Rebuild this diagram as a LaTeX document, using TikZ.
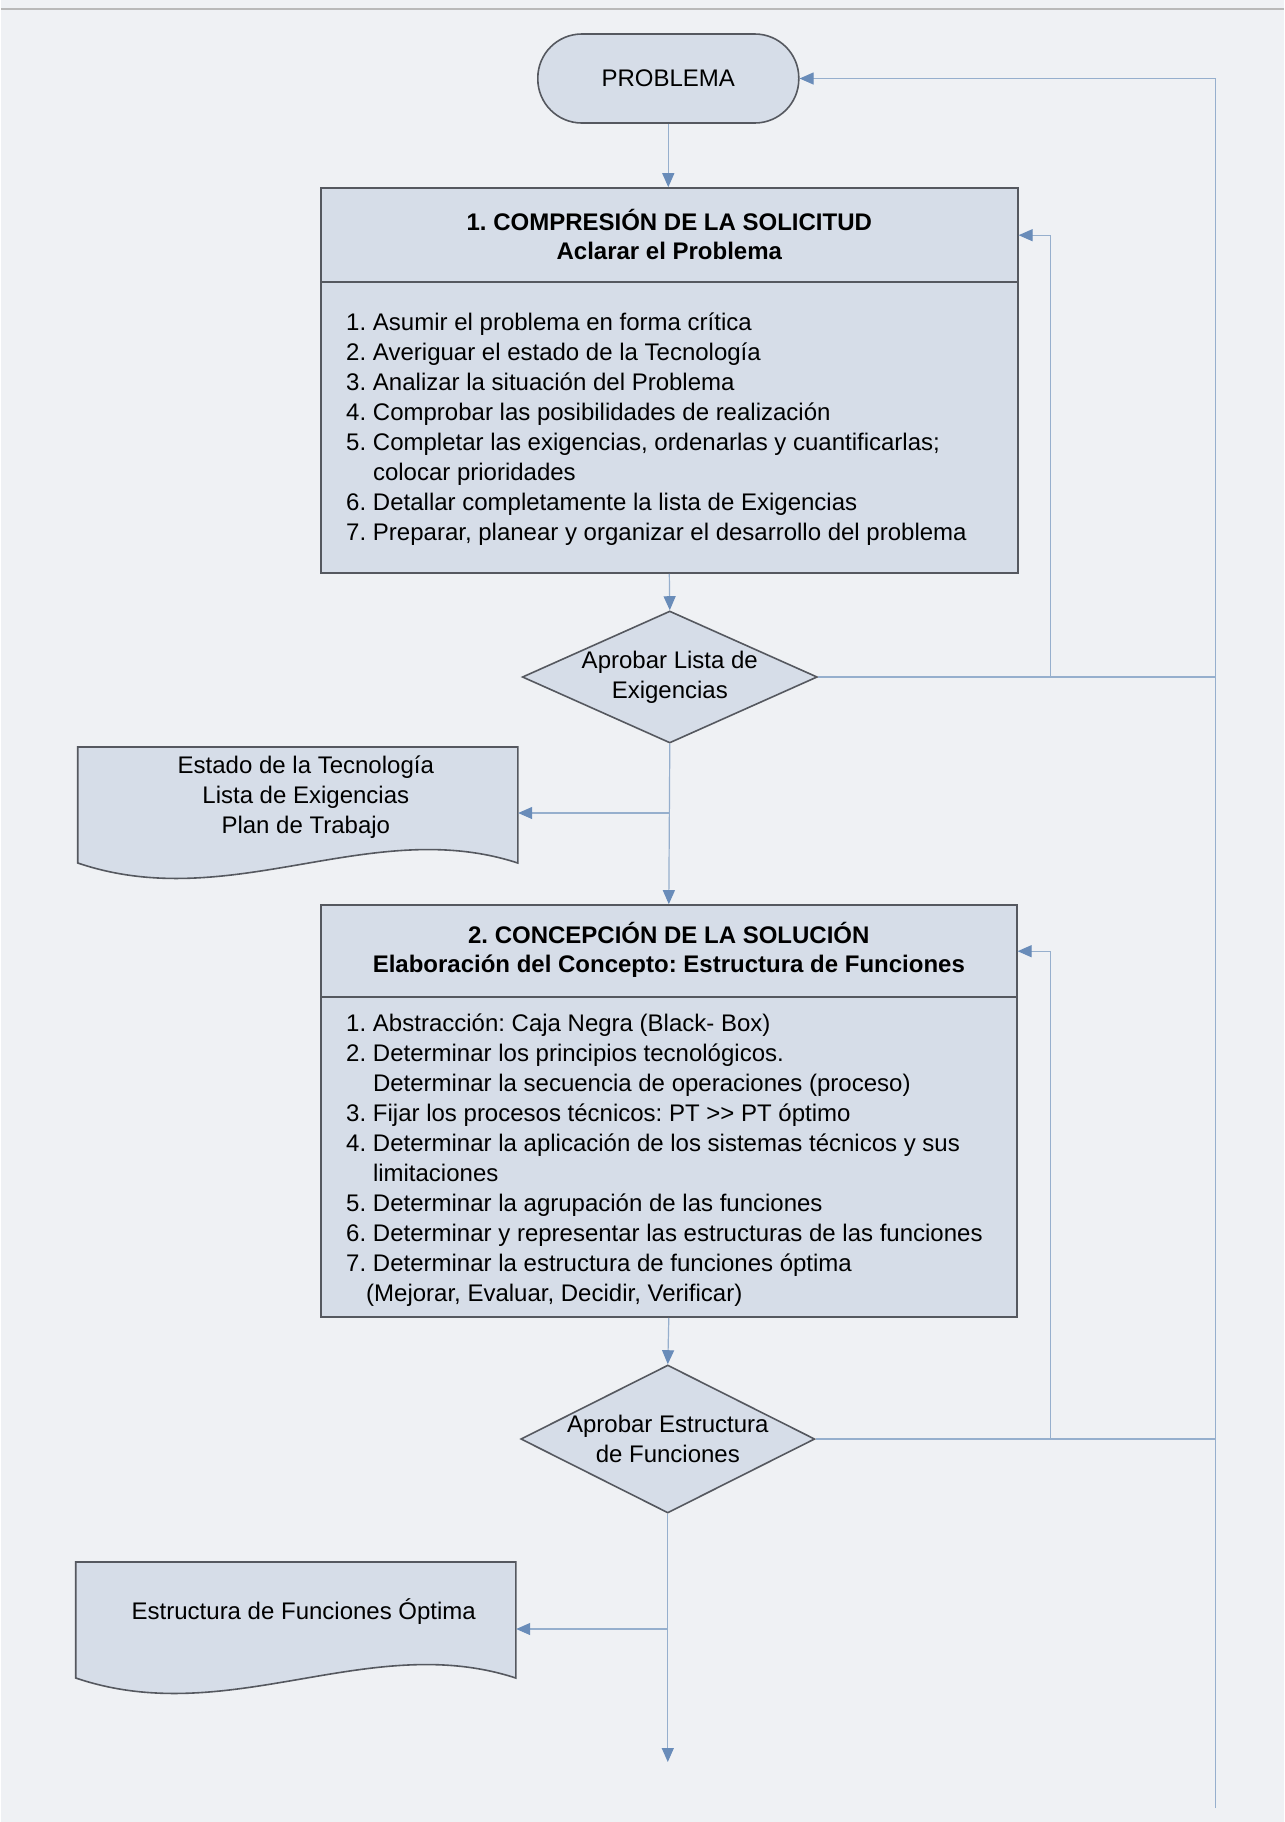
\documentclass[tikz,border=0pt]{standalone}
\usepackage{fontspec}
\setmainfont{Liberation Sans}
\usetikzlibrary{shapes.geometric,arrows.meta,calc,fit}
\frenchspacing

\definecolor{lnblue}{RGB}{150,175,205}
\definecolor{arblue}{RGB}{105,140,185}
\definecolor{shfill}{RGB}{214,221,232}
\definecolor{shdraw}{RGB}{85,88,95}
\definecolor{bgpage}{RGB}{239,241,244}

\newcommand{\itemno}[1]{\makebox[13.4pt][l]{#1}}
\newcommand{\itemgap}{\hspace*{13.4pt}}

\begin{document}
\begin{tikzpicture}[x=0.5pt,y=-0.5pt,
  font=\fontsize{12}{15}\selectfont,
  box/.style={draw=shdraw,fill=shfill,line width=0.8pt,inner sep=0pt},
  term/.style={draw=shdraw,fill=shfill,line width=0.8pt,rounded corners=22pt,minimum width=130.5pt,minimum height=44.5pt},
  decision/.style={diamond,draw=shdraw,fill=shfill,line width=0.8pt,inner sep=0pt},
  docum/.style={draw=shdraw,fill=shfill,line width=0.8pt},
  link/.style={draw=lnblue,line width=0.6pt},
  flow/.style={link,-{Triangle[length=7pt,width=6pt,color=arblue]}},
  txt/.style={align=center,inner sep=0pt},
  head/.style={txt,font=\fontsize{12}{14.5}\selectfont\bfseries},
  list/.style={align=left,anchor=north west,inner sep=0pt}
]
%Shape: Page
\fill[bgpage] (0,0) rectangle (1283,1822);
\draw[gray!55,line width=0.8pt] (0,9) -- (1283,9);

%Shape: Terminator
\node[term] (prob) at (667.5,78.5) {PROBLEMA};

%Shape: Box 1
\node[box,fit={(320,188) (1017,573)}] (sol1) {};
\draw[shdraw,line width=0.8pt] (320,282) -- (1017,282);
% Text Node
\node[head] (sol1h) at (668.5,234) {1. COMPRESIÓN DE LA SOLICITUD\\Aclarar el Problema};
% Text Node
\node[list] (sol1l) at (345,312) {\itemno{1.}Asumir el problema en forma crítica\\
\itemno{2.}Averiguar el estado de la Tecnología\\
\itemno{3.}Analizar la situación del Problema\\
\itemno{4.}Comprobar las posibilidades de realización\\
\itemno{5.}Completar las exigencias, ordenarlas y cuantificarlas;\\
\itemgap colocar prioridades\\
\itemno{6.}Detallar completamente la lista de Exigencias\\
\itemno{7.}Preparar, planear y organizar el desarrollo del problema};

%Shape: Diamond
\node[decision,minimum width=147.5pt,minimum height=66pt] (ok1) at (669,677) {};
% Text Node
\node[txt] (ok1t) at (ok1) {Aprobar Lista de\\Exigencias};

%Shape: Document
\draw[docum] (77,747) -- (517,747) -- (517,863) .. controls (370,815) and (230,915) .. (77,863) -- cycle;
\node[fit={(77,747) (517,863)},inner sep=0pt] (doc1) {};
% Text Node
\node[txt] (doc1t) at (305,797) {Estado de la Tecnología\\Lista de Exigencias\\Plan de Trabajo};

%Shape: Box 2
\node[box,fit={(320,905) (1016,1317)}] (sol2) {};
\draw[shdraw,line width=0.8pt] (320,997) -- (1016,997);
% Text Node
\node[head] (sol2h) at (668,950) {2. CONCEPCIÓN DE LA SOLUCIÓN\\Elaboración del Concepto: Estructura de Funciones};
% Text Node
\node[list] (sol2l) at (345,1013) {\itemno{1.}Abstracción: Caja Negra (Black- Box)\\
\itemno{2.}Determinar los principios tecnológicos.\\
\itemgap Determinar la secuencia de operaciones (proceso)\\
\itemno{3.}Fijar los procesos técnicos: PT >{}> PT óptimo\\
\itemno{4.}Determinar la aplicación de los sistemas técnicos y sus\\
\itemgap limitaciones\\
\itemno{5.}Determinar la agrupación de las funciones\\
\itemno{6.}Determinar y representar las estructuras de las funciones\\
\itemno{7.}Determinar la estructura de funciones óptima\\
\hspace*{10pt}(Mejorar, Evaluar, Decidir, Verificar)};

%Shape: Diamond
\node[decision,minimum width=147pt,minimum height=74pt] (ok2) at (667,1439) {};
% Text Node
\node[txt] (ok2t) at (ok2) {Aprobar Estructura\\de Funciones};

%Shape: Document
\draw[docum] (75,1562) -- (515,1562) -- (515,1678) .. controls (368,1630) and (228,1730) .. (75,1678) -- cycle;
\node[fit={(75,1562) (515,1678)},inner sep=0pt] (doc2) {};
% Text Node
\node[txt] (doc2t) at (303,1612) {Estructura de Funciones Óptima};

%Straight Lines
\draw[flow] (prob.south) -- (prob.south |- sol1.north);
\draw[flow] (sol1.south) -- (ok1.north);
\draw[flow] (ok1.south) -- (sol2.north);
\coordinate (br1) at (669,813);
\draw[flow] (br1) -- (br1 -| doc1.east);
\draw[flow] (sol2.south) -- (ok2.north);
\coordinate (br2) at (667,1629);
\draw[flow] (br2) -- (br2 -| doc2.east);
\coordinate (fin) at (667,1762);
\draw[flow] (ok2.south) -- (fin);

%Straight Lines
\coordinate (rt) at (1215,1808);
\draw[flow] (rt) |- (prob.east);
\draw[link] (ok1.east) -- (ok1.east -| rt);
\coordinate (fb1) at (1050,677);
\draw[flow] (fb1) |- ($(sol1.north east)+(0,48)$);
\draw[link] (ok2.east) -- (ok2.east -| rt);
\coordinate (fb2) at (1050,1439);
\draw[flow] (fb2) |- ($(sol2.north east)+(0,47)$);

\end{tikzpicture}
\end{document}
